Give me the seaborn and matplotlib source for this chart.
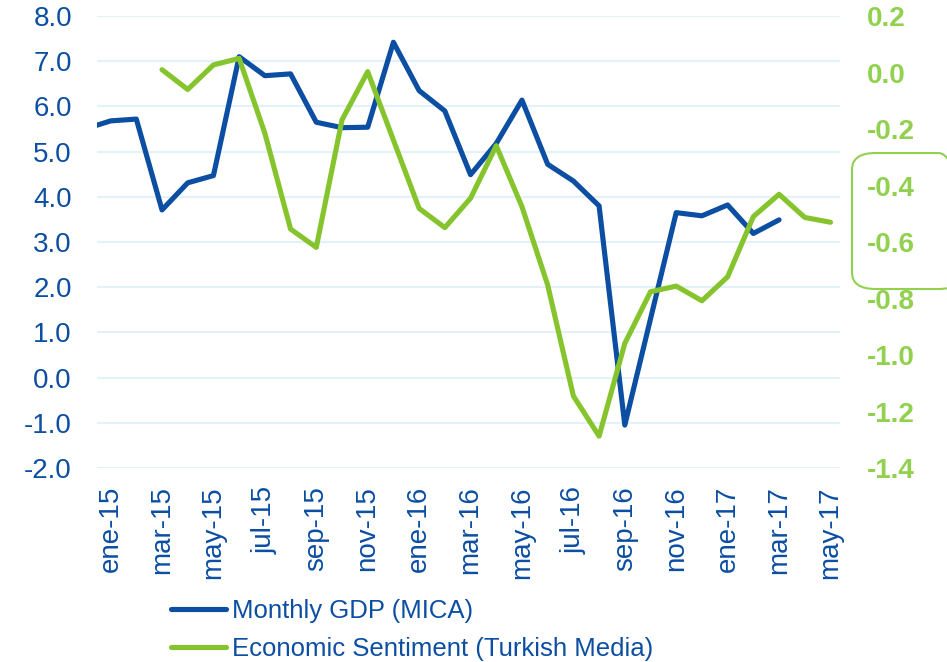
import matplotlib
matplotlib.use("Agg")
import numpy as np
import pandas as pd
import matplotlib.pyplot as plt
import seaborn as sns
from matplotlib.patches import FancyBboxPatch

# months dic-14 .. may-17 (dic-14 only feeds the clipped first segment)
months = ["dic-14",
          "ene-15", "feb-15", "mar-15", "abr-15", "may-15", "jun-15", "jul-15", "ago-15",
          "sep-15", "oct-15", "nov-15", "dic-15",
          "ene-16", "feb-16", "mar-16", "abr-16", "may-16", "jun-16", "jul-16", "ago-16",
          "sep-16", "oct-16", "nov-16", "dic-16",
          "ene-17", "feb-17", "mar-17", "abr-17", "may-17"]

gdp = [5.50,
       5.68, 5.72, 3.71, 4.31, 4.47, 7.10, 6.68, 6.72, 5.65, 5.53, 5.54, 7.42,
       6.35, 5.90, 4.49, 5.18, 6.14, 4.72, 4.35, 3.80, -1.05, 1.30, 3.65, 3.58,
       3.82, 3.19, 3.49, np.nan, np.nan]

sentiment = [np.nan,
             np.nan, np.nan, 0.01, -0.06, 0.027, 0.05, -0.215, -0.554, -0.619, -0.168, 0.003, -0.239,
             -0.481, -0.549, -0.445, -0.259, -0.475, -0.752, -1.145, -1.287, -0.959, -0.776, -0.756, -0.808,
             -0.723, -0.51, -0.431, -0.513, -0.530]

tick_labels = ["ene-15", "mar-15", "may-15", "jul-15", "sep-15", "nov-15", "ene-16", "mar-16",
               "may-16", "jul-16", "sep-16", "nov-16", "ene-17", "mar-17", "may-17"]

left_ticks = [8.0, 7.0, 6.0, 5.0, 4.0, 3.0, 2.0, 1.0, 0.0, -1.0, -2.0]
right_ticks = [0.2, 0.0, -0.2, -0.4, -0.6, -0.8, -1.0, -1.2, -1.4]

BLUE = "#0B4EA2"
GREEN = "#86C42E"
GREEN_TXT = "#92D050"
GRID = "#E3F1FB"

df = pd.DataFrame({"month": months, "gdp": gdp, "sentiment": sentiment})
df["x"] = np.arange(len(df)) - 1  # ene-15 -> 0

sns.set_style("white")
plt.rcParams["font.family"] = ["Liberation Sans", "DejaVu Sans"]

fig = plt.figure(figsize=(9.47, 6.62), dpi=100)
ax = fig.add_axes([0.1024, 0.293, 0.887 - 0.1024, 0.9758 - 0.293])
ax2 = ax.twinx()

sns.lineplot(data=df, x="x", y="gdp", ax=ax, color=BLUE, linewidth=3.7,
             label="Monthly GDP (MICA)", legend=False)
sns.lineplot(data=df, x="x", y="sentiment", ax=ax2, color=GREEN, linewidth=3.7,
             label="Economic Sentiment (Turkish Media)", legend=False)
ax.patch.set_visible(False)
ax2.set_zorder(ax.get_zorder() + 1)
ax2.patch.set_visible(False)

ax.set_xlim(-0.53, 28.37)
ax.set_ylim(-2.0, 8.0)
ax2.set_ylim(-1.4, 0.2)

ax.set_yticks(left_ticks)
ax.set_yticklabels([f"{v:.1f}" for v in left_ticks], color=BLUE, fontsize=20)
ax2.set_yticks(right_ticks)
ax2.set_yticklabels([f"{v:.1f}" for v in right_ticks], color=GREEN_TXT,
                    fontsize=20, fontweight="bold")
ax.set_xticks(np.arange(0, 29, 2))
ax.set_xticklabels(tick_labels, rotation=90, color=BLUE, fontsize=20)

ax.tick_params(axis="y", length=0, pad=18)
ax2.tick_params(axis="y", length=0, pad=19)
ax.tick_params(axis="x", length=0, pad=13)

ax.grid(axis="y", color=GRID, linewidth=1.5)
ax.set_axisbelow(True)
for a in (ax, ax2):
    for s in a.spines.values():
        s.set_visible(False)
    a.set_xlabel("")
    a.set_ylabel("")

# rounded box around -0.4 / -0.6 labels
box = FancyBboxPatch((852 / 947, 1 - 289 / 662), 110 / 947, 136 / 662,
                     boxstyle="round,pad=0,rounding_size=0.025",
                     transform=fig.transFigure, fill=False,
                     edgecolor=GREEN_TXT, linewidth=1.5, clip_on=False)
fig.patches.append(box)

h1, l1 = ax.get_legend_handles_labels()
h2, l2 = ax2.get_legend_handles_labels()
leg = fig.legend(h1 + h2, l1 + l2, loc="upper left",
                 bbox_to_anchor=(171 / 947, 1 - 599 / 662), frameon=False,
                 fontsize=18.5, handlelength=2.15, handletextpad=0.22,
                 labelspacing=0.55, borderpad=0, borderaxespad=0)
for t in leg.get_texts():
    t.set_color(BLUE)

fig.savefig("out.png", dpi=100)
